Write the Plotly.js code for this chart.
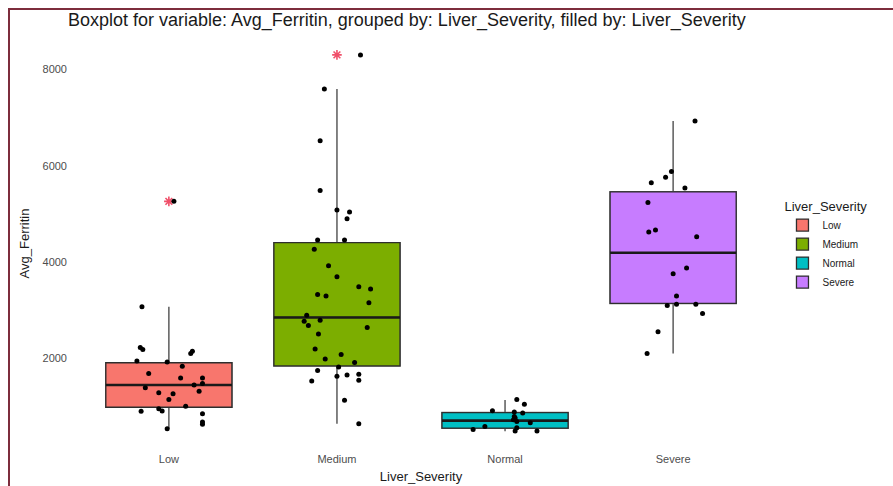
<!DOCTYPE html>
<html>
<head>
<meta charset="utf-8">
<script src="https://cdn.plot.ly/plotly-3.0.1.min.js"></script>
<style>
  html, body { margin: 0; padding: 0; background: #ffffff; }
  #wrap { position: relative; width: 893px; height: 486px; overflow: hidden; }
  #chart { position: absolute; left: 0; top: 0; width: 893px; height: 486px; }
  #frame { position: absolute; left: 8px; top: 8px; width: 900px; height: 500px;
           border-top: 2px solid #7d2d3c; border-left: 2px solid #7d2d3c; pointer-events: none; }
</style>
</head>
<body>
<div id="wrap">
  <div id="chart"></div>
  <div id="frame"></div>
</div>
<script>
// ---- Data ----
const categories = ['Low', 'Medium', 'Normal', 'Severe'];
const fillColors = ['#F8766D', '#7CAE00', '#00BFC4', '#C77CFF'];

// box statistics
const q1Values       = [989, 1846, 556, 3145];
const medianValues   = [1451, 2853, 710, 4198];
const q3Values       = [1913, 4406, 876, 5461];
const lowerWhiskers  = [543, 647, 490, 2104];
const upperWhiskers  = [3074, 7598, 1140, 6932];

// outliers (drawn at the category centre)
const outlierCategory = ['Low', 'Medium'];
const outlierValues   = [5264, 8306];

// jittered observations per category (value, horizontal jitter in category units)
const lowValues = [3074, 2229, 2187, 2104, 2152, 1950, 1929, 1840, 1688, 1596, 1596, 1450, 1480, 1396,
                   1319, 1292, 1271, 1147, 1007, 903, 959, 909, 855, 680, 633, 543, 5264];
const lowJitter = [-0.16, -0.17, -0.155, 0.13, 0.14, -0.19, -0.01, 0.08, -0.12, 0.07, 0.2, 0.15, 0.2, -0.14,
                   0.18, -0.06, 0.025, 0, 0.1, -0.165, -0.06, -0.04, 0.2, 0.2, 0.2, -0.01, 0.03];

const mediumValues = [8306, 7598, 6522, 5488, 5086, 5045, 4905, 4460, 4460, 4268, 3927, 3698, 3490, 3442,
                      3332, 3297, 3157, 2901, 2776, 2687, 2797, 2645, 2512, 2200, 1992, 2083, 1917, 1825,
                      1750, 1632, 1659, 1673, 1534, 1548, 1132, 647];
const mediumJitter = [0.14, -0.075, -0.1, -0.1, 0, 0.075, 0.06, -0.115, 0.045, -0.135, -0.05, 0, 0.13, 0.2,
                      -0.115, -0.065, 0.19, -0.18, -0.195, -0.17, -0.1, 0.18, -0.11, -0.13, -0.07, 0.025, 0.105, 0.01,
                      -0.115, 0, 0.06, 0.13, -0.15, 0.13, 0.045, 0.13];

const normalValues = [1147, 1049, 918, 889, 868, 799, 764, 730, 695, 668, 591, 529, 493, 564, 493];
const normalJitter = [0.07, 0.115, -0.075, 0.055, 0.105, 0.055, 0.06, 0.05, 0.07, 0.15, -0.12, -0.19, 0.06, 0.07, 0.19];

const severeValues = [6932, 5884, 5767, 5648, 5544, 5238, 4629, 4670, 4531, 3879, 3761, 3297, 3103, 3130,
                      3130, 2936, 2554, 2104];
const severeJitter = [0.13, -0.01, -0.045, -0.13, 0.07, -0.15, -0.145, -0.105, 0.14, 0.08, 0, 0.02, -0.035, 0.02,
                      0.135, 0.175, -0.09, -0.155];

const yTickValues = [2000, 4000, 6000, 8000];

// ---- Build traces ----
const FONT = '"Liberation Sans", Arial, sans-serif';
const traces = [];
const groupValues = [lowValues, mediumValues, normalValues, severeValues];
const groupJitter = [lowJitter, mediumJitter, normalJitter, severeJitter];

categories.forEach((cat, i) => {
  const pos = i + 1;
  // whiskers (gray line)
  traces.push({
    type: 'box', x: [pos], q1: [q1Values[i]], median: [medianValues[i]], q3: [q3Values[i]],
    lowerfence: [lowerWhiskers[i]], upperfence: [upperWhiskers[i]],
    width: 0.75, whiskerwidth: 0, boxpoints: false,
    fillcolor: 'rgba(0,0,0,0)', line: { color: '#666666', width: 1.6 },
    showlegend: false, hoverinfo: 'skip'
  });
  // filled box
  traces.push({
    type: 'box', x: [pos], q1: [q1Values[i]], median: [medianValues[i]], q3: [q3Values[i]],
    lowerfence: [q1Values[i]], upperfence: [q3Values[i]],
    width: 0.75, whiskerwidth: 0, boxpoints: false,
    fillcolor: fillColors[i], line: { color: '#2e2e2e', width: 1.3 },
    name: cat, showlegend: true
  });
  // thick median
  traces.push({
    type: 'box', x: [pos], q1: [medianValues[i]], median: [medianValues[i]], q3: [medianValues[i]],
    lowerfence: [medianValues[i]], upperfence: [medianValues[i]],
    width: 0.75, whiskerwidth: 0, boxpoints: false,
    fillcolor: 'rgba(0,0,0,0)', line: { color: '#1a1a1a', width: 2.6 },
    showlegend: false, hoverinfo: 'skip'
  });
});

// outliers
traces.push({
  type: 'scatter', mode: 'markers',
  x: outlierCategory.map(c => categories.indexOf(c) + 1), y: outlierValues,
  marker: { symbol: 'asterisk-open', size: 8, color: '#f0506a', line: { color: '#f0506a', width: 1.6 } },
  showlegend: false
});

// jittered points
categories.forEach((cat, i) => {
  traces.push({
    type: 'scatter', mode: 'markers',
    x: groupValues[i].map((v, k) => i + 1 + groupJitter[i][k]),
    y: groupValues[i],
    marker: { color: '#000000', size: 5 },
    showlegend: false
  });
});

const layout = {
  width: 893, height: 486,
  paper_bgcolor: '#ffffff', plot_bgcolor: '#ffffff',
  margin: { l: 68, r: 119, t: 36, b: 35 },
  font: { family: FONT, color: '#1a1a1a' },
  boxmode: 'overlay',
  title: {
    text: 'Boxplot for variable: Avg_Ferritin, grouped by: Liver_Severity, filled by: Liver_Severity',
    font: { family: FONT, size: 18, color: '#1a1a1a' },
    xref: 'container', yref: 'container', x: 68 / 893, xanchor: 'left', y: 1 - 20 / 486, yanchor: 'middle'
  },
  xaxis: {
    type: 'linear', range: [0.4, 4.6],
    tickvals: categories.map((c, i) => i + 1), ticktext: categories,
    showgrid: false, zeroline: false, showline: false, ticks: '',
    tickfont: { family: FONT, size: 11, color: '#4d4d4d' },
    title: { text: 'Liver_Severity', font: { family: FONT, size: 13, color: '#1a1a1a' }, standoff: 7 },
    automargin: false
  },
  yaxis: {
    range: [80, 8698], tickvals: yTickValues,
    showgrid: false, zeroline: false, showline: false, ticks: '',
    tickfont: { family: FONT, size: 11, color: '#4d4d4d' },
    title: { text: 'Avg_Ferritin', font: { family: FONT, size: 13, color: '#1a1a1a' }, standoff: 9 },
    automargin: false
  },
  legend: {
    x: 1.012, xanchor: 'left', y: 0.62, yanchor: 'top',
    title: { text: 'Liver_Severity', font: { family: FONT, size: 13, color: '#1a1a1a' } },
    font: { family: FONT, size: 10, color: '#1a1a1a' },
    bgcolor: 'rgba(0,0,0,0)', itemwidth: 30, tracegroupgap: 0
  },
  showlegend: true
};

Plotly.newPlot('chart', traces, layout, { displayModeBar: false, staticPlot: true });
</script>
</body>
</html>
